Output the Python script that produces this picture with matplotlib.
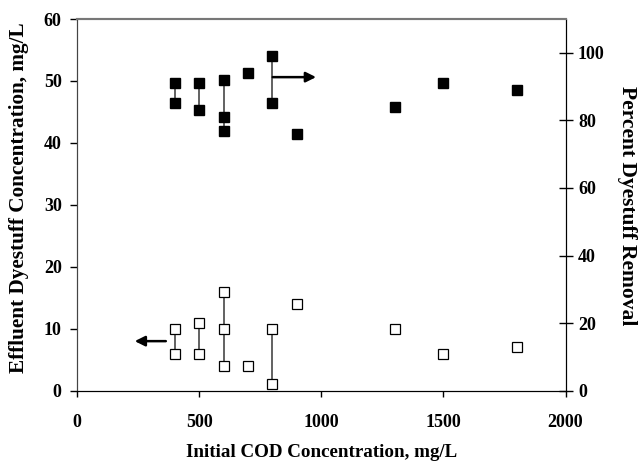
import matplotlib
matplotlib.use("Agg")
import matplotlib.pyplot as plt

plt.rcParams['font.family'] = ['Liberation Serif', 'DejaVu Serif']
plt.rcParams['font.weight'] = 'bold'

# initial COD concentration, mg/L
cod = [400, 400, 500, 500, 600, 600, 600, 700, 800, 800, 900, 1300, 1500, 1800]
# effluent dyestuff concentration, mg/L (left axis, open squares)
effluent = [10, 6, 11, 6, 16, 10, 4, 4, 10, 1, 14, 10, 6, 7]
# percent dyestuff removal (right axis, filled squares)
cod_r = [400, 400, 500, 500, 600, 600, 600, 700, 800, 800, 900, 1300, 1500, 1800]
removal = [91, 85, 91, 83, 92, 81, 77, 94, 99, 85, 76, 84, 91, 89]

# groups joined by a vertical line
groups = [400, 500, 600, 800]

fig = plt.figure(figsize=(6.39, 4.65), dpi=100)
ax = fig.add_axes([0.1205, 0.1598, 0.7645, 0.7993])
ax2 = ax.twinx()

for g in groups:
    ys = [e for c, e in zip(cod, effluent) if c == g]
    ax.plot([g, g], [min(ys), max(ys)], color='#555555', lw=1.3, zorder=1)
    ys = [r for c, r in zip(cod_r, removal) if c == g]
    ax2.plot([g, g], [min(ys), max(ys)], color='#555555', lw=1.3, zorder=1)

ax.plot(cod, effluent, 's', ms=6.5, mfc='white', mec='black', mew=0.9, zorder=3)
ax2.plot(cod_r, removal, 's', ms=6.7, mfc='black', mec='black', zorder=3)

ax.annotate('', xy=(225, 8), xytext=(375, 8),
            arrowprops=dict(arrowstyle='-|>', color='black', lw=1.8, mutation_scale=15))
ax2.annotate('', xy=(990, 92.8), xytext=(790, 92.8),
             arrowprops=dict(arrowstyle='-|>', color='black', lw=1.8, mutation_scale=15))

ax.set_xlim(0, 2000)
ax.set_ylim(0, 60)
ax2.set_ylim(0, 110)
ax.set_xticks(range(0, 2001, 500))
ax.set_yticks(range(0, 61, 10))
ax2.set_yticks(range(0, 101, 20))

ax.tick_params(axis='x', labelsize=13, direction='out', length=4, width=1, pad=13)
ax.tick_params(axis='y', labelsize=13, direction='out', length=5, width=1, pad=6)
ax2.tick_params(axis='y', labelsize=13, direction='inout', length=10, width=1, pad=4)
for lab in ax.get_xticklabels() + ax.get_yticklabels() + ax2.get_yticklabels():
    lab.set_fontweight('bold')

for a in (ax, ax2):
    a.spines['top'].set_color('#777777')
    a.spines['top'].set_linewidth(1.5)
    a.spines['left'].set_color('#444444')
    a.spines['bottom'].set_color('black')
    a.spines['right'].set_color('black')

ax.set_xlabel('Initial COD Concentration, mg/L', fontsize=13.7, fontweight='bold', labelpad=9)
ax.set_ylabel('Effluent Dyestuff Concentration, mg/L', fontsize=15.3, fontweight='bold')
ax2.set_ylabel('Percent Dyestuff Removal', fontsize=15.5, fontweight='bold', rotation=-90)
ax.yaxis.set_label_coords(-0.098, 0.52)
ax2.yaxis.set_label_coords(1.146, 0.497)

fig.savefig('out.png', dpi=100)
